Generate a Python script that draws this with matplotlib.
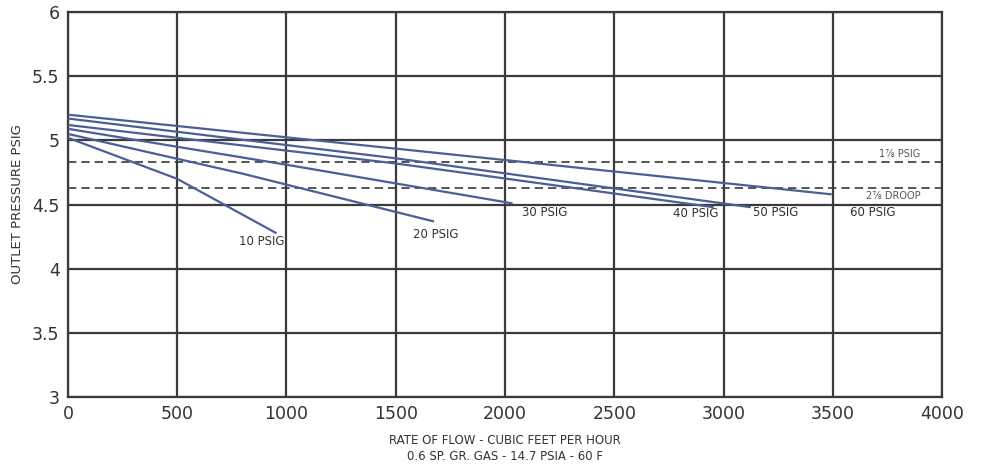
import matplotlib.pyplot as plt

# outlet pressure curves per inlet pressure (flow cfh, outlet psig)
inlet_labels = ["10 PSIG", "20 PSIG", "30 PSIG", "40 PSIG", "50 PSIG", "60 PSIG"]
flow_10 = [0, 500, 950]
psig_10 = [5.02, 4.70, 4.28]
flow_20 = [0, 800, 1670]
psig_20 = [5.05, 4.74, 4.37]
flow_30 = [0, 1000, 2030]
psig_30 = [5.09, 4.81, 4.51]
flow_40 = [0, 1500, 2950]
psig_40 = [5.12, 4.82, 4.48]
flow_50 = [0, 1500, 3120]
psig_50 = [5.17, 4.86, 4.48]
flow_60 = [0, 1700, 3490]
psig_60 = [5.20, 4.90, 4.58]

droop_levels = [4.83, 4.63]
droop_labels = ["1⅞ PSIG", "2⅞ DROOP"]

x_ticks = [0, 500, 1000, 1500, 2000, 2500, 3000, 3500, 4000]
y_ticks = [3, 3.5, 4, 4.5, 5, 5.5, 6]

fig = plt.figure(figsize=(9.82, 4.69), dpi=100)
ax = fig.add_axes([0.0692, 0.1535, 0.8901, 0.8209])

grid_c = '#3a3a3a'
for x in x_ticks:
    ax.axvline(x, color=grid_c, lw=1.6, zorder=1)
for y in y_ticks:
    ax.axhline(y, color=grid_c, lw=1.6, zorder=1)
for y in droop_levels:
    ax.axhline(y, color=grid_c, lw=1.2, ls=(0, (5, 3)), zorder=1)

line_c = '#4b5f97'
curves = [(flow_10, psig_10), (flow_20, psig_20), (flow_30, psig_30),
          (flow_40, psig_40), (flow_50, psig_50), (flow_60, psig_60)]
for fx, py in curves:
    ax.plot(fx, py, color=line_c, lw=1.6, zorder=3)

# curve labels
label_pos = [(783, 4.21), (1579, 4.27), (2078, 4.44), (2769, 4.43),
             (3135, 4.44), (3579, 4.44)]
txt_c = '#333333'
for lab, (lx, ly) in zip(inlet_labels, label_pos):
    ax.text(lx, ly, lab, fontsize=8.5, color=txt_c, ha='left', va='center')

ax.text(3900, droop_levels[0] + 0.06, droop_labels[0], fontsize=7, color='#555555',
        ha='right', va='center')
ax.text(3900, droop_levels[1] - 0.06, droop_labels[1], fontsize=7, color='#555555',
        ha='right', va='center')

ax.set_xlim(0, 4000)
ax.set_ylim(3, 6)
ax.set_xticks(x_ticks)
ax.set_yticks(y_ticks)
ax.set_yticklabels(["3", "3.5", "4", "4.5", "5", "5.5", "6"])
ax.tick_params(length=0, labelsize=12.5, colors='#333333', pad=6)
for s in ax.spines.values():
    s.set_color(grid_c)
    s.set_linewidth(1.6)

ax.set_xlabel("RATE OF FLOW - CUBIC FEET PER HOUR\n0.6 SP. GR. GAS - 14.7 PSIA - 60 F",
              fontsize=8.5, color=txt_c, labelpad=8, linespacing=1.25)
ax.set_ylabel("OUTLET PRESSURE PSIG", fontsize=9.5, color=txt_c, labelpad=6)

fig.savefig("out.png", dpi=100)
